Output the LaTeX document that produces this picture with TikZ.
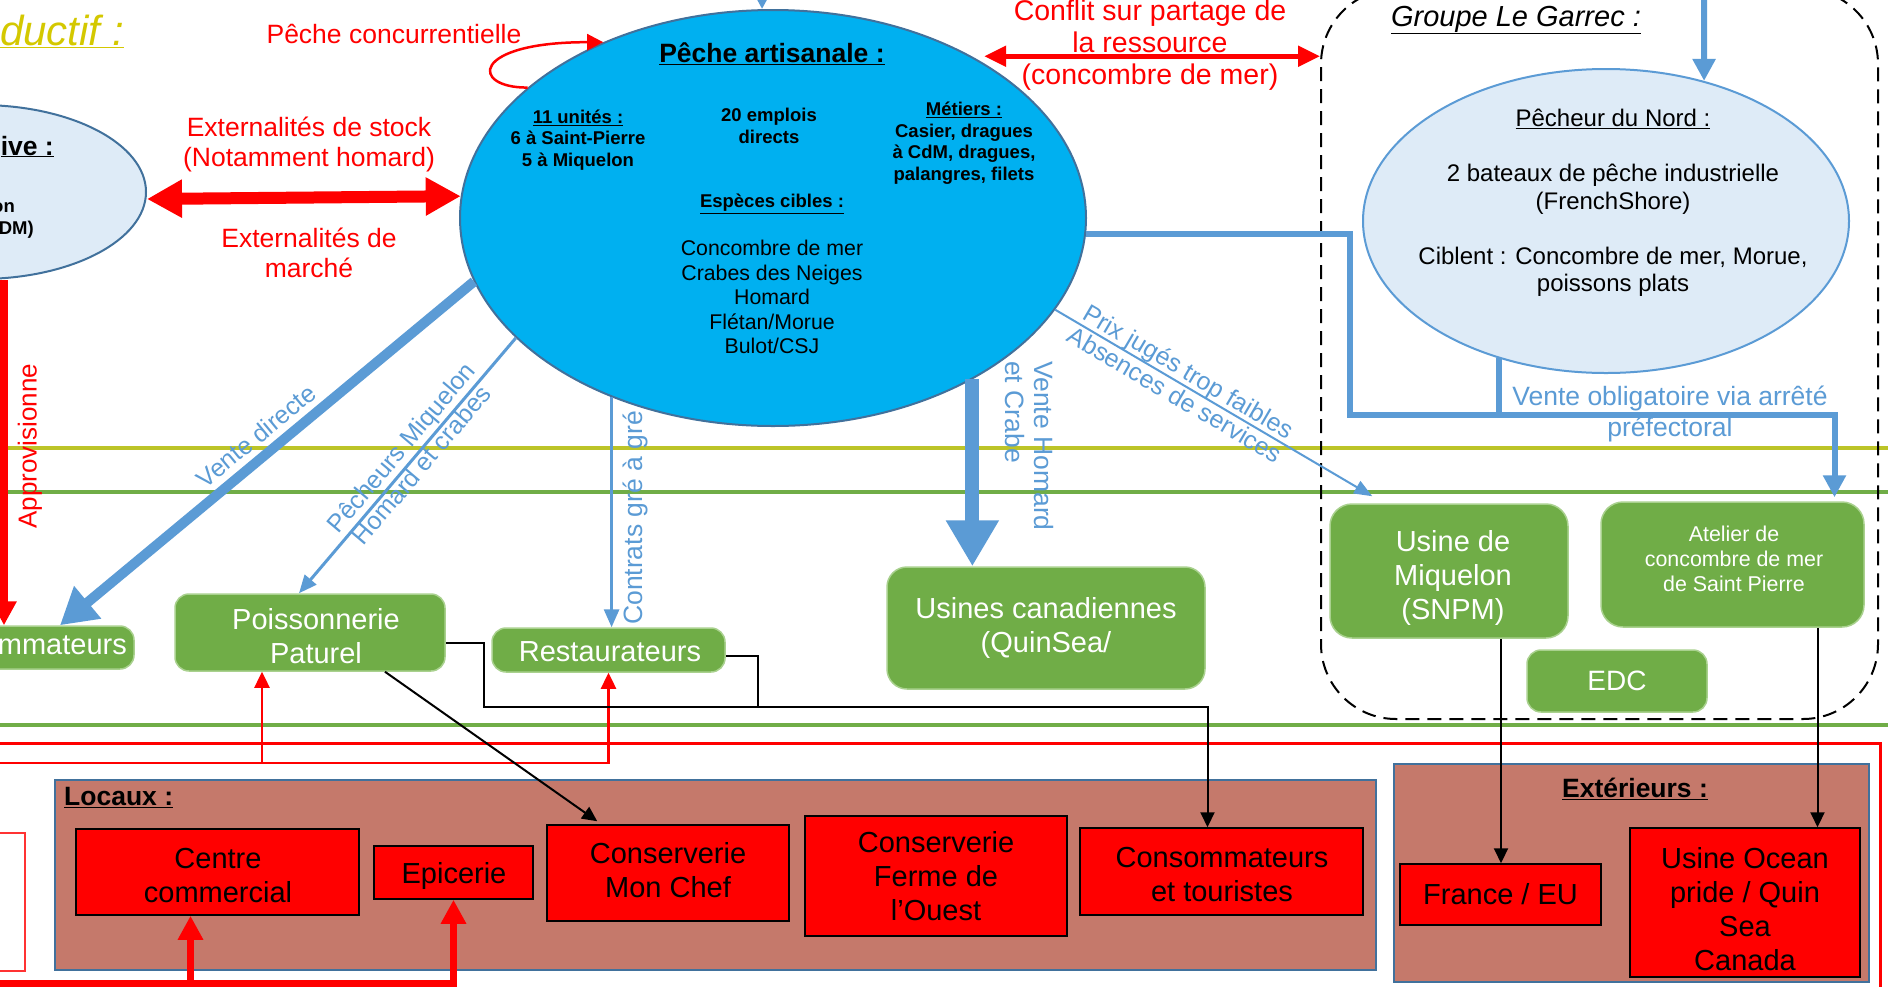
\documentclass[tikz,border=0pt]{standalone}
\usepackage{fontspec}
\setmainfont{Liberation Sans}
\usetikzlibrary{arrows.meta,shapes.geometric,calc}
\definecolor{ablue}{HTML}{5B9BD5}
\definecolor{dblue}{HTML}{41719C}
\definecolor{cyanfill}{HTML}{00B0F0}
\definecolor{lblue}{HTML}{DEEBF7}
\definecolor{ggreen}{HTML}{70AD47}
\definecolor{gborder}{HTML}{A9D18E}
\definecolor{brownf}{RGB}{197,121,107}
\definecolor{oliveL}{RGB}{188,196,40}
\definecolor{ytitle}{RGB}{212,200,0}
\newcommand\myfs[2]{\fontsize{#1}{#2}\selectfont}
\begin{document}
\begin{tikzpicture}[x=1pt,y=-1pt,
 gbox/.style={draw=gborder, fill=ggreen, line width=1.5pt, rounded corners=14pt, text=white, align=center, font=\myfs{29}{34}, inner sep=0pt},
 gtext/.style={inner sep=0pt, align=center, text=white, font=\myfs{29}{34}},
 rbox/.style={draw=black, fill=red, line width=1.5pt, align=center, font=\myfs{29}{34}, inner sep=0pt},
 rtext/.style={inner sep=0pt, align=center, font=\myfs{29}{34}},
 bbox/.style={draw=dblue, fill=brownf, line width=2.5pt, inner sep=0pt},
 lab/.style={inner sep=0pt, align=center},
 redlab/.style={lab, text=red, font=\myfs{26.5}{30}},
 bluelab/.style={lab, text=ablue, font=\myfs{25}{27}},
 bigredarrow/.style={draw=red, line width=12pt, {Triangle[length=35pt,width=36pt]}-{Triangle[length=35pt,width=36pt]}},
 conflarrow/.style={draw=red, line width=5pt, {Triangle[length=22pt,width=20pt]}-{Triangle[length=22pt,width=20pt]}},
 redloop/.style={draw=red, line width=2.5pt, -{Triangle[length=16pt,width=16pt]}},
 redmid/.style={draw=red, line width=7pt, -{Triangle[length=24pt,width=24pt]}},
 redthin/.style={draw=red, line width=2.5pt, -{Triangle[length=16pt,width=15pt]}},
 bluethick/.style={draw=ablue, line width=10pt, -{Triangle[length=36pt,width=40pt]}},
 bluefat/.style={draw=ablue, line width=14pt, -{Triangle[length=46pt,width=50pt]}},
 bluemid/.style={draw=ablue, line width=6pt, -{Triangle[length=22pt,width=22pt]}},
 bluethin/.style={draw=ablue, line width=3pt, -{Triangle[length=18pt,width=15pt]}},
 bluehair/.style={draw=ablue, line width=2pt, -{Triangle[length=18pt,width=14pt]}},
 blkarrow/.style={draw=black, line width=2pt, -{Triangle[length=15pt,width=14pt]}},
 blkline/.style={draw=black, line width=1.5pt},
 hline/.style={line width=4pt}
]
\useasboundingbox (0,0) rectangle (1888,986);
\clip (0,0) rectangle (1888,986);
\fill[white] (0,0) rectangle (1888,986);

% background horizontal lines
\draw[hline, oliveL] (-10,448) -- (1900,448);
\draw[hline, ggreen] (-10,492) -- (1900,492);
\draw[hline, ggreen] (-10,725) -- (1900,725);
\draw[red, line width=3pt] (-20,743) -| (1880,1010);
\draw[red!80, line width=1.5pt] (-20,833) rectangle (25,971);

% group box
\node[draw=black, dash pattern=on 14pt off 8pt, line width=2pt, rounded corners=75pt, minimum width=557pt, minimum height=730pt, inner sep=0pt] (grp) at (1599.5,354) {};
\node[lab, font=\itshape\myfs{29}{33}] (grpt) at (1516,20) {\underline{Groupe Le Garrec :}};

% brown boxes
\node[bbox, minimum width=1321pt, minimum height=190pt] (loc) at (715.5,875) {};
\node[bbox, minimum width=475pt, minimum height=218pt] (ext) at (1631.5,873) {};
\node[lab, anchor=west, font=\bfseries\myfs{26.5}{30}] (loct) at (64,798) {\underline{Locaux :}};
\node[lab, font=\bfseries\myfs{26.5}{30}] (extt) at (1635,789) {\underline{Extérieurs :}};

% title
\node[lab, anchor=base west, text=ytitle, font=\itshape\myfs{42}{46}] (title) at (0,45) {\underline{ductif :}};

% ellipses
\node[ellipse, draw=dblue, fill=lblue, line width=2pt, minimum width=332pt, minimum height=174pt, inner sep=0pt] (le) at (-20,192) {};
\node[ellipse, draw=dblue, fill=cyanfill, line width=2pt, minimum width=626pt, minimum height=416pt, inner sep=0pt] (pa) at (773,218) {};
\node[ellipse, draw=ablue, fill=lblue, line width=2pt, minimum width=486pt, minimum height=304pt, inner sep=0pt] (pn) at (1606,221) {};

% left ellipse texts
\node[lab, anchor=base east, font=\bfseries\myfs{26.5}{30}] (let1) at (54,155) {\underline{ive :}};
\node[lab, anchor=base east, font=\bfseries\myfs{18.5}{21}] (let2) at (15,212) {on};
\node[lab, anchor=base east, font=\bfseries\myfs{18.5}{21}] (let3) at (34,234) {DM)};

% big ellipse texts
\node[lab, font=\bfseries\myfs{26.5}{30}] (pat) at (772,54) {\underline{Pêche artisanale :}};
\node[lab, font=\bfseries\myfs{18.5}{21.3}] (u11) at (578,140) {\underline{11 unités :}\\6 à Saint-Pierre\\5 à Miquelon};
\node[lab, font=\bfseries\myfs{18.5}{21.3}] (emp) at (769,126) {20 emplois\\directs};
\node[lab, font=\bfseries\myfs{18.5}{21.6}] (met) at (964,143) {\underline{Métiers :}\\Casier, dragues\\à CdM, dragues,\\palangres, filets};
\node[lab, font=\bfseries\myfs{18.5}{21.3}] (esp) at (772,204) {\underline{Espèces cibles :}};
\node[lab, font=\myfs{21.3}{24.4}] (spc) at (772,297) {Concombre de mer\\Crabes des Neiges\\Homard\\Flétan/Morue\\Bulot/CSJ};

% Pecheur du Nord texts
\node[lab, font=\myfs{24}{27.5}] (pnt) at (1613,203) {\underline{Pêcheur du Nord :}\\[27.5pt]2 bateaux de pêche industrielle\\(FrenchShore)\\[27.5pt]Ciblent : Concombre de mer, Morue,\\poissons plats};

% green boxes
\node[gbox, minimum width=234pt, minimum height=43pt] (cs) at (17,647.5) {};
\node[gtext, anchor=east] (cst) at (127,645) {mmateurs};
\node[gbox, minimum width=270pt, minimum height=77pt] (poi) at (310,632.5) {};
\node[gtext] (poit) at (316,636) {Poissonnerie\\Paturel};
\node[gbox, minimum width=233pt, minimum height=44pt] (rest) at (608.5,650) {};
\node[gtext] (restt) at (610,652) {Restaurateurs};
\node[gbox, rounded corners=20pt, minimum width=318pt, minimum height=122pt] (usc) at (1046,628) {Usines canadiennes\\(QuinSea/};
\node[gbox, rounded corners=22pt, minimum width=238pt, minimum height=134pt] (usm) at (1449,571) {};
\node[gtext] (usmt) at (1453,578) {Usine de\\Miquelon\\(SNPM)};
\node[gbox, rounded corners=22pt, minimum width=263pt, minimum height=125pt] (atl) at (1732.5,564.5) {};
\node[gtext, font=\myfs{21.4}{25}] (atlt) at (1734,559) {Atelier de\\concombre de mer\\de Saint Pierre};
\node[gbox, minimum width=180pt, minimum height=62pt, font=\myfs{28}{32}] (edc) at (1617,681) {EDC};

% red boxes
\node[rbox, minimum width=283pt, minimum height=86pt] (cc) at (217.5,872) {};
\node[rtext] (cct) at (218,876) {Centre\\commercial};
\node[rbox, minimum width=159pt, minimum height=53pt] (ep) at (453.5,872.5) {};
\node[rtext] (ept) at (454,876) {Epicerie};
\node[rbox, minimum width=242pt, minimum height=96pt] (cmc) at (668,873) {};
\node[rtext] (cmct) at (668,870) {Conserverie\\Mon Chef};
\node[rbox, minimum width=262pt, minimum height=120pt] (cfo) at (936,876) {Conserverie\\Ferme de\\l’Ouest};
\node[rbox, minimum width=283pt, minimum height=87pt] (cet) at (1221.5,871.5) {};
\node[rtext] (cett) at (1222,875) {Consommateurs\\et touristes};
\node[rbox, minimum width=201pt, minimum height=61pt] (fr) at (1500.5,894.5) {France / EU};
\node[rbox, minimum width=230pt, minimum height=149pt] (uo) at (1745,902.5) {};
\node[rtext] (uot) at (1745,909) {Usine Ocean\\pride / Quin\\Sea\\Canada};

% red labels
\node[redlab] (pc) at (394,34) {Pêche concurrentielle};
\node[redlab] (ex1) at (309,144) {Externalités de stock\\(Notamment homard)};
\node[redlab] (ex2) at (309,253) {Externalités de\\marché};
\node[redlab, font=\myfs{28.5}{32}] (cf) at (1150,45) {Conflit sur partage de\\la ressource\\(concombre de mer)};
\node[redlab, rotate=90, font=\myfs{26}{30}] (appr) at (30,446) {Approvisionne};

% red connectors
\draw[bigredarrow] ($(le.east)+(0,7)$) -- (pa.176.7);
\coordinate (cfs) at ($(pa.40)+(16,2)$);
\draw[conflarrow] (cfs) -- (grp.west |- cfs);
\draw[redloop] (pa.152.8) .. controls (470,88) and (470,42) .. (pa.134.5);
\coordinate (leb) at ($(le.south)+(24,0)$);
\draw[redmid] (leb) -- (leb |- cs.north);
\coordinate (rl) at (-20,763);
\draw[redthin] (rl) -| (rest.south);
\coordinate (poib) at ($(poi.south)+(-48,0)$);
\draw[redthin] (poib |- rl) -- (poib);
\coordinate (bl) at (-20,983);
\draw[redmid] (bl) -| (ep.south);
\coordinate (ccb) at ($(cc.south)+(-27,0)$);
\draw[redmid] (ccb |- bl) -- (ccb);

% blue connectors
\coordinate (patop) at (762,-40);
\draw[bluemid] (patop) -- (pa.93);
\coordinate (pntop) at (1704,-40);
\draw[bluemid] (pntop) -- (pn.55.2);
\draw[bluethick] (pa.192.5) -- ($(cs.north)+(43,0)$);
\draw[bluethin] (pa.205.4) -- ($(poi.north)+(-11,0)$);
\draw[bluethin] (pa.228.7) -- (pa.228.7 |- rest.north);
\draw[bluefat] (pa.-39.7) -- (pa.-39.7 |- usc.north);
\draw[bluehair] (pa.-18.3) -- ($(usm.north west)+(43,-7)$);
\coordinate (bend1) at (1350,415);
\draw[bluemid] (pa.-3.3) -| (bend1) -| ($(atl.north)+(102,-4)$);
\draw[draw=ablue, line width=6pt] (pn.-128.5) -- (pn.-128.5 |- bend1);

% blue labels
\node[bluelab, rotate=39.5] (vd) at (256,436) {Vente directe};
\node[bluelab, rotate=49.7] (pm) at (411,456) {Pêcheurs Miquelon\\Homard et crabes};
\node[bluelab, rotate=90, font=\myfs{26.5}{29}] (cg) at (635,518) {Contrats gré à gré};
\node[bluelab, rotate=-90, anchor=west, align=left, font=\myfs{26.5}{29}] (vh) at (1029,361) {Vente Homard\\et Crabe};
\node[bluelab, rotate=-30.4] (pj) at (1182,383) {Prix jugés trop faibles\\Absences de services};
\node[bluelab, font=\myfs{26.5}{31}] (vo) at (1670,414) {Vente obligatoire via arrêté\\préfectoral};

% black connectors
\coordinate (j1) at (484,707);
\draw[blkarrow] ($(poi.east)+(0,10)$) -| (j1) -| ($(cet.north)+(-14,0)$);
\coordinate (j2) at (758,707);
\draw[blkline] ($(rest.east)+(0,6)$) -| (j2);
\draw[blkarrow] ($(poi.south)+(75,0)$) -- ($(cmc.north west)+(51,-3)$);
\coordinate (usmb) at ($(usm.south)+(52,0)$);
\draw[blkarrow] (usmb) -- (usmb |- fr.north);
\coordinate (atb) at ($(atl.south)+(85,0)$);
\draw[blkarrow] (atb) -- (atb |- uo.north);
\end{tikzpicture}
\end{document}
